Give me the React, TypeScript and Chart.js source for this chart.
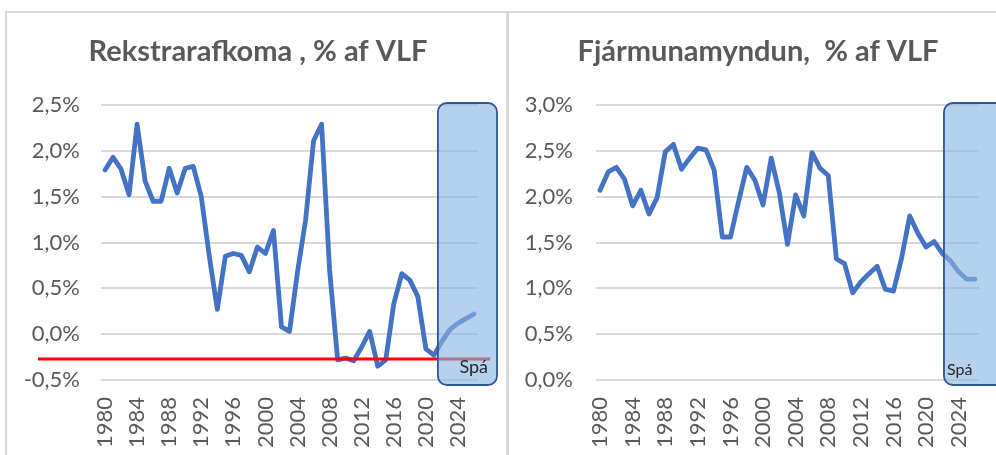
import React, { useEffect, useRef } from "react";
import { Chart, registerables } from "chart.js";

Chart.register(...registerables);

const FONT = "Lato, 'Open Sans', sans-serif";

const years = [
  "1980", "1981", "1982", "1983", "1984", "1985", "1986", "1987", "1988", "1989",
  "1990", "1991", "1992", "1993", "1994", "1995", "1996", "1997", "1998", "1999",
  "2000", "2001", "2002", "2003", "2004", "2005", "2006", "2007", "2008", "2009",
  "2010", "2011", "2012", "2013", "2014", "2015", "2016", "2017", "2018", "2019",
  "2020", "2021", "2022", "2023", "2024", "2025", "2026",
];

const rekstrarafkoma = [
  1.79, 1.93, 1.80, 1.52, 2.29, 1.67, 1.45, 1.45, 1.81, 1.54,
  1.81, 1.83, 1.50, 0.85, 0.27, 0.85, 0.88, 0.86, 0.68, 0.95,
  0.88, 1.13, 0.08, 0.03, 0.68, 1.24, 2.11, 2.29, 0.70, -0.28,
  -0.26, -0.29, -0.14, 0.03, -0.35, -0.28, 0.33, 0.66, 0.59, 0.41,
  -0.16, -0.23, -0.08, 0.05, 0.12, 0.17, 0.22,
];

const fjarmunamyndun = [
  2.07, 2.27, 2.32, 2.19, 1.90, 2.07, 1.81, 1.99, 2.49, 2.57,
  2.30, 2.42, 2.53, 2.51, 2.29, 1.56, 1.56, 1.95, 2.32, 2.18,
  1.91, 2.42, 2.04, 1.48, 2.02, 1.79, 2.48, 2.31, 2.23, 1.32,
  1.27, 0.95, 1.07, 1.16, 1.24, 0.99, 0.97, 1.33, 1.79, 1.60,
  1.45, 1.51, 1.38, 1.30, 1.18, 1.10, 1.10,
];

const leftTicks = [-0.5, 0, 0.5, 1.0, 1.5, 2.0, 2.5];
const rightTicks = [0, 0.5, 1.0, 1.5, 2.0, 2.5, 3.0];

const leftTitle = "Rekstrarafkoma , % af VLF";
const rightTitle = "Fjármunamyndun,  % af VLF";
const forecastLabel = "Spá";
const redLineValue = -0.27;
const forecastStartLeft = 41.5; // category index where forecast box starts
const forecastStartRight = 42.2;

const overlayPlugin = {
  id: "overlay",
  afterDraw(chart: any, _args: any, opts: any) {
    const ctx = chart.ctx as CanvasRenderingContext2D;
    const ca = chart.chartArea;
    const x = chart.scales.x;
    const y = chart.scales.y;
    ctx.save();
    // title
    ctx.font = `bold ${opts.titleSize}px ${FONT}`;
    ctx.fillStyle = "#595959";
    ctx.textAlign = "center";
    ctx.textBaseline = "middle";
    ctx.fillText(opts.title, opts.titleX, opts.titleY);

    // red reference line
    if (opts.refValue !== null && opts.refValue !== undefined) {
      const yy = y.getPixelForValue(opts.refValue);
      ctx.strokeStyle = "#ff0000";
      ctx.lineWidth = 3;
      ctx.beginPath();
      ctx.moveTo(opts.refX0, yy);
      ctx.lineTo(ca.right + opts.refRightExt, yy);
      ctx.stroke();
    }

    // forecast box
    const bx0 = x.getPixelForValue(opts.boxFrom);
    const bx1 = ca.right + opts.boxRightExt;
    const by0 = ca.top - 2;
    const by1 = ca.bottom + 5;
    ctx.beginPath();
    (ctx as any).roundRect(bx0, by0, bx1 - bx0, by1 - by0, 9);
    ctx.fillStyle = "rgba(135, 180, 225, 0.62)";
    ctx.fill();
    ctx.strokeStyle = "#2f5597";
    ctx.lineWidth = 1.8;
    ctx.stroke();

    // label
    ctx.font = `${opts.labelSize}px ${FONT}`;
    ctx.fillStyle = "#262626";
    ctx.textBaseline = "alphabetic";
    if (opts.labelAlign === "right") {
      ctx.textAlign = "right";
      ctx.fillText(forecastLabel, bx1 - 9, ca.bottom - 7);
    } else {
      ctx.textAlign = "left";
      ctx.fillText(forecastLabel, bx0 + 3, ca.bottom - 5);
    }
    ctx.restore();
  },
};

function fmt(v: number) {
  return v.toFixed(1).replace(".", ",") + "%";
}

type PanelProps = {
  left: number;
  width: number;
  data: number[];
  ticks: number[];
  yWidth: number;
  yPad: number;
  padRight: number;
  overlay: any;
};

function Panel(p: PanelProps) {
  const ref = useRef<HTMLCanvasElement | null>(null);
  useEffect(() => {
    const canvas = ref.current!;
    const chart = new Chart(canvas, {
      type: "line",
      data: {
        labels: years,
        datasets: [
          {
            data: p.data,
            borderColor: "#4472c4",
            borderWidth: 4.8,
            pointRadius: 0,
            tension: 0,
            fill: false,
            borderJoinStyle: "round",
            borderCapStyle: "round",
          },
        ],
      },
      options: {
        animation: false,
        responsive: false,
        devicePixelRatio: 1,
        layout: { padding: { top: 105, left: 0, right: p.padRight, bottom: 0 } },
        plugins: {
          legend: { display: false },
          tooltip: { enabled: false },
          title: { display: false },
          overlay: p.overlay,
        } as any,
        scales: {
          x: {
            type: "category",
            offset: true,
            grid: { display: false, drawTicks: false },
            border: { display: false },
            ticks: {
              autoSkip: false,
              minRotation: 90,
              maxRotation: 90,
              padding: 17,
              color: "#595959",
              font: { family: FONT, size: 22 },
              callback: (_v: any, i: number) => (i % 4 === 0 ? years[i] : ""),
            },
            afterFit: (s: any) => {
              s.height = 75;
              s.paddingLeft = 0;
              s.paddingRight = 0;
            },
          },
          y: {
            min: p.ticks[0],
            max: p.ticks[p.ticks.length - 1],
            grid: { color: "#d9d9d9", lineWidth: 2, drawTicks: false },
            border: { display: false },
            ticks: {
              stepSize: p.ticks[1] - p.ticks[0],
              padding: p.yPad,
              color: "#595959",
              font: { family: FONT, size: 22 },
              callback: (v: any) => fmt(Number(v)),
            },
            afterFit: (s: any) => {
              s.width = p.yWidth;
            },
          },
        },
      },
      plugins: [overlayPlugin as any],
    });
    return () => chart.destroy();
  }, []);
  return (
    <canvas
      ref={ref}
      width={p.width}
      height={455}
      style={{ position: "absolute", left: p.left, top: 0, width: p.width, height: 455 }}
    />
  );
}

export default function App() {
  return (
    <div
      style={{
        position: "fixed",
        left: 0,
        top: 0,
        width: 996,
        height: 455,
        overflow: "hidden",
        background: "#ffffff",
      }}
    >
      <Panel
        left={0}
        width={506}
        data={rekstrarafkoma}
        ticks={leftTicks}
        yWidth={101}
        yPad={21}
        padRight={28}
        overlay={{
          title: leftTitle,
          titleSize: 29,
          titleX: 258,
          titleY: 52,
          refValue: redLineValue,
          refX0: 38,
          refRightExt: 12,
          boxFrom: forecastStartLeft,
          boxRightExt: 19,
          labelSize: 18,
          labelAlign: "right",
        }}
      />
      <Panel
        left={509}
        width={500}
        data={fjarmunamyndun}
        ticks={rightTicks}
        yWidth={87}
        yPad={23}
        padRight={30}
        overlay={{
          title: rightTitle,
          titleSize: 29,
          titleX: 249,
          titleY: 52,
          refValue: null,
          boxFrom: forecastStartRight,
          boxRightExt: 40,
          labelSize: 16,
          labelAlign: "left",
        }}
      />
      <div style={{ position: "absolute", left: 5, top: 11, width: 1000, height: 2, background: "#d9d9d9" }} />
      <div style={{ position: "absolute", left: 5, top: 11, width: 2, height: 450, background: "#d9d9d9" }} />
      <div style={{ position: "absolute", left: 506, top: 11, width: 3, height: 450, background: "#d9d9d9" }} />
    </div>
  );
}
